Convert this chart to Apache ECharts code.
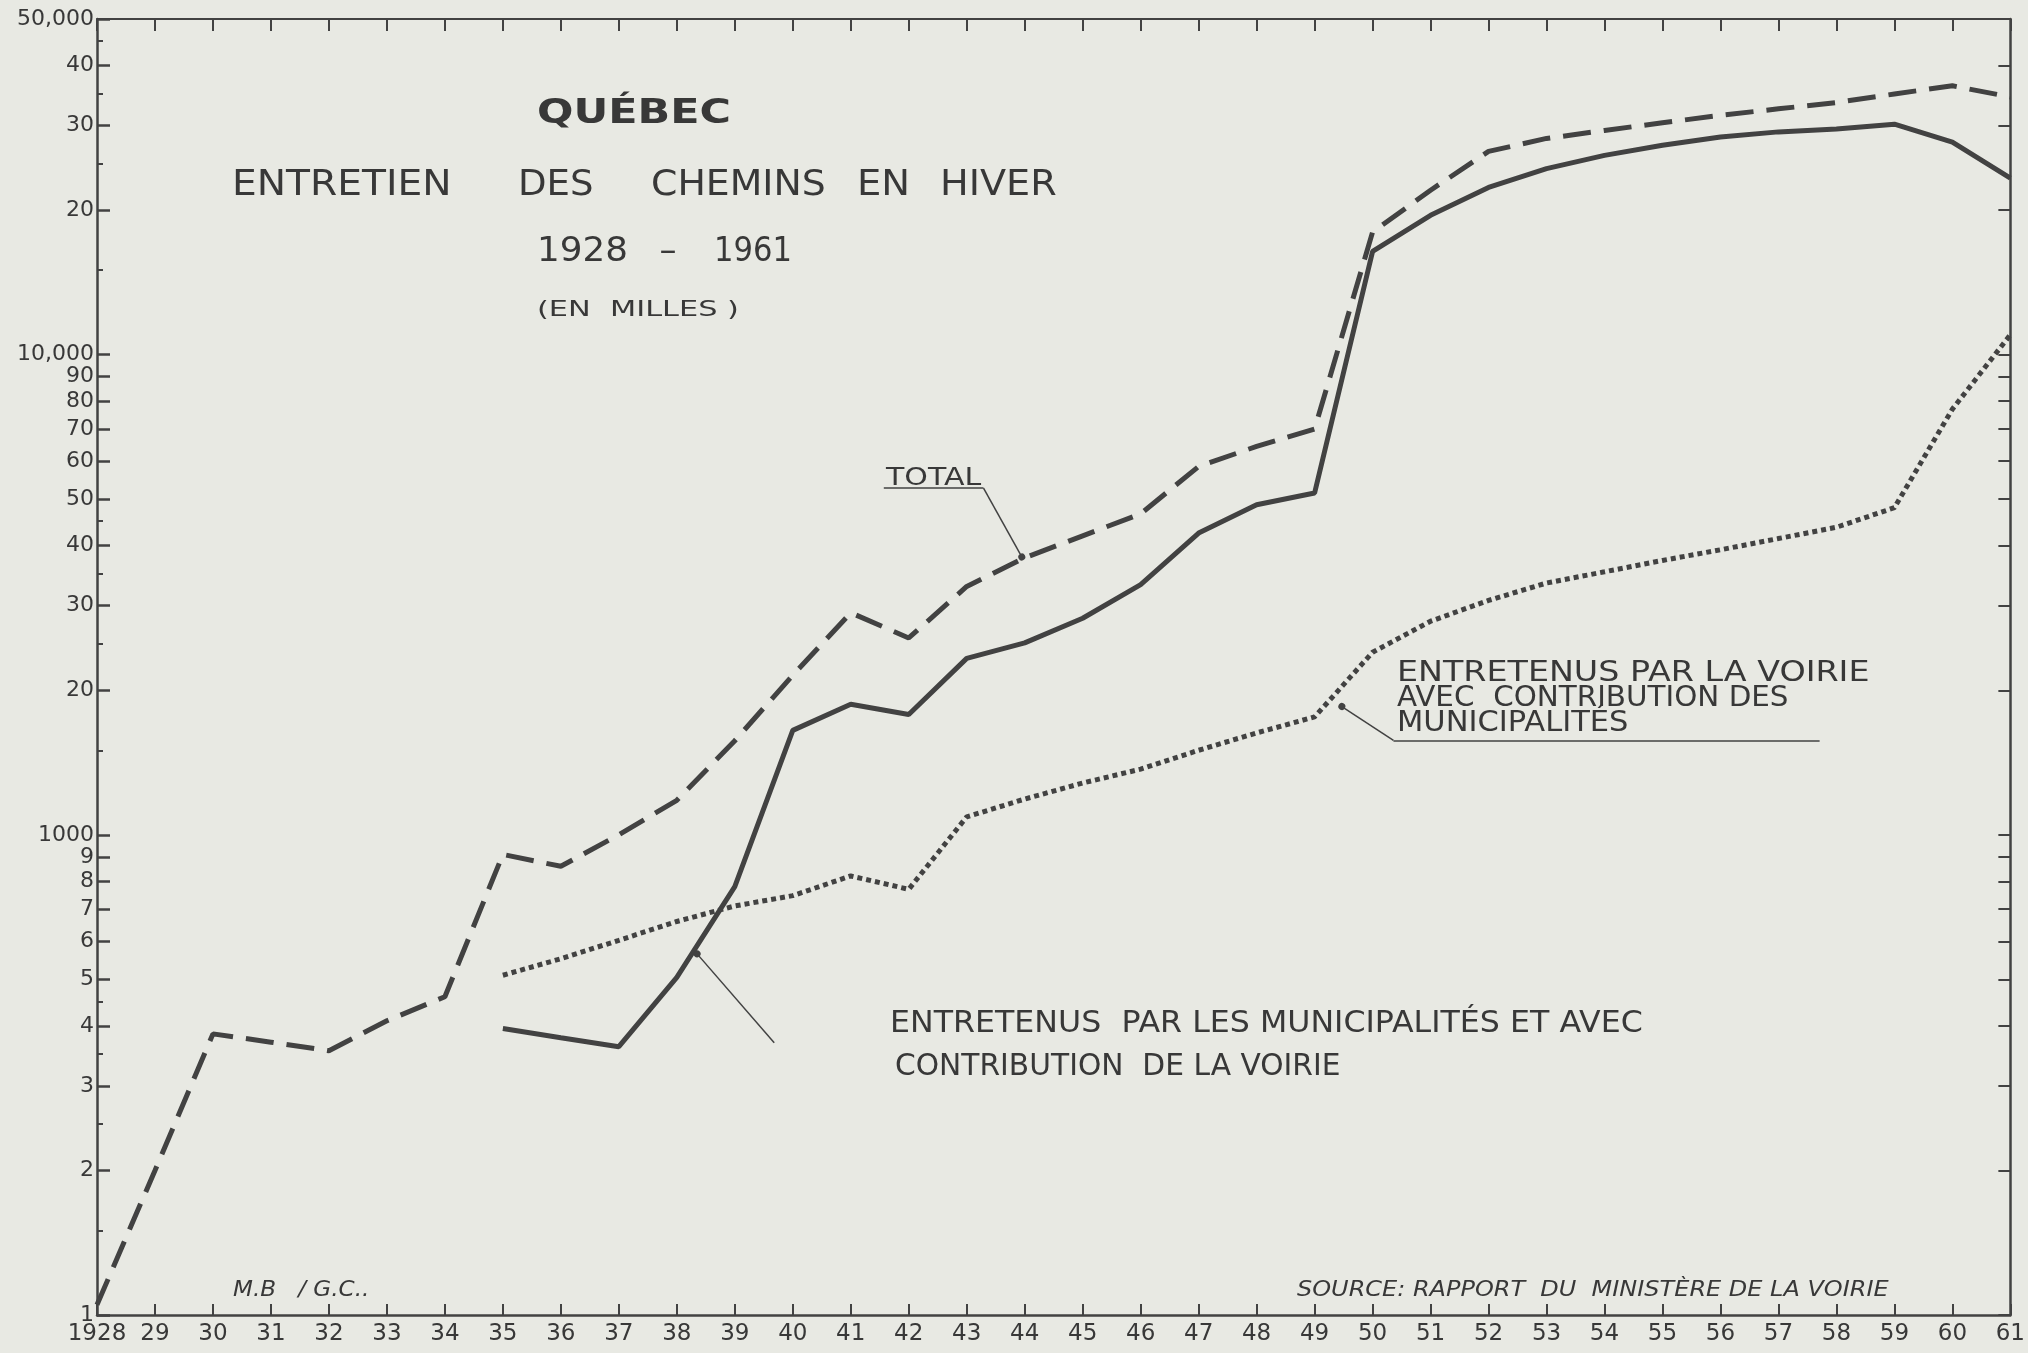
<!DOCTYPE html>
<html>
<head>
<meta charset="utf-8">
<script src="https://cdn.jsdelivr.net/npm/echarts@6/dist/echarts.min.js"></script>
<style>
    html, body { margin: 0; padding: 0; background: #e8e9e3; }
    #main { width: 2028px; height: 1353px; }
</style>
</head>
<body>
<div id="main"></div>
<script>
    // years on the x axis
    var years = [1928, 1929, 1930, 1931, 1932, 1933, 1934, 1935, 1936, 1937, 1938, 1939,
        1940, 1941, 1942, 1943, 1944, 1945, 1946, 1947, 1948, 1949, 1950, 1951,
        1952, 1953, 1954, 1955, 1956, 1957, 1958, 1959, 1960, 1961];

    // total (dashed)
    var total = [105, 200, 385, 370, 355, 410, 460, 910, 860, 1000, 1180, 1570,
        2150, 2900, 2570, 3290, 3775, 4195, 4660, 5850, 6440, 7000, 18000, 22000,
        26500, 28200, 29300, 30400, 31500, 32500, 33500, 34900, 36300, 34400];

    // entretenus par les municipalites (solid)
    var municipal = [null, null, null, null, null, null, null, 395, 378, 362, 505, 780,
        1650, 1870, 1780, 2330, 2510, 2825, 3320, 4250, 4870, 5150, 16400, 19500,
        22300, 24400, 26000, 27300, 28400, 29100, 29500, 30200, 27700, 23300];

    // entretenus par la voirie (dotted)
    var voirie = [null, null, null, null, null, null, null, 510, 552, 603, 660, 711,
        747, 821, 770, 1090, 1187, 1282, 1370, 1500, 1630, 1760, 2400, 2785,
        3077, 3345, 3530, 3727, 3923, 4140, 4370, 4800, 7700, 11000];

    // y axis ticks and their labels
    var yTickValues = [100, 200, 300, 400, 500, 600, 700, 800, 900,
        1000, 2000, 3000, 4000, 5000, 6000, 7000, 8000, 9000,
        10000, 20000, 30000, 40000, 50000];
    var yTickLabels = ['1', '2', '3', '4', '5', '6', '7', '8', '9',
        '1000', '20', '30', '40', '50', '60', '70', '80', '90',
        '10,000', '20', '30', '40', '50,000'];
    var yMinorTicks = [150, 250, 350, 450, 1500, 2500, 3500, 4500, 15000, 25000, 35000, 45000];

    var ink = '#424242';
    var textInk = '#383838';
    var font = '"DejaVu Sans", "Liberation Sans", sans-serif';

    function pairs(values) {
        var out = [];
        for (var i = 0; i < years.length; i++) {
            if (values[i] != null) out.push([years[i], values[i]]);
        }
        return out;
    }

    function yLabel(v) {
        for (var i = 0; i < yTickValues.length; i++) {
            if (Math.abs(yTickValues[i] - v) / yTickValues[i] < 0.001) return yTickLabels[i];
        }
        return '';
    }

    // plain lettering on the sheet, stretched a bit like the hand stencil
    function note(text, x, y, size, sx, opts) {
        opts = opts || {};
        return {
            type: 'text', x: x, y: y, scaleX: sx,
            style: {
                text: text, fill: textInk,
                font: (opts.style || '') + ' ' + size + 'px ' + font,
                textAlign: opts.align || 'left', textVerticalAlign: 'middle'
            }
        };
    }

    var chart = echarts.init(document.getElementById('main'));

    var leader = {
        width: 1.5,
        color: ink,
        type: 'solid'
    };

    chart.setOption({
        animation: false,
        backgroundColor: '#e8e9e3',
        grid: {left: 97, right: 5, top: 19, bottom: 38},
        xAxis: [
            {
                type: 'value', min: 1928, max: 1961, interval: 1, position: 'bottom',
                axisLine: {lineStyle: {color: ink, width: 2.5}},
                axisTick: {inside: true, length: 11, lineStyle: {color: ink, width: 2}},
                axisLabel: {
                    color: textInk, fontSize: 23, fontFamily: font, margin: 8,
                    formatter: function (v) { return v === 1928 ? '1928' : String(v).slice(2); }
                },
                splitLine: {show: false}
            },
            {
                type: 'value', min: 1928, max: 1961, interval: 1, position: 'top',
                axisLine: {lineStyle: {color: ink, width: 2}},
                axisTick: {inside: true, length: 12, lineStyle: {color: ink, width: 2}},
                axisLabel: {show: false},
                splitLine: {show: false}
            }
        ],
        yAxis: [
            {
                type: 'log', logBase: 10, min: 100, max: 50000, position: 'left',
                axisLine: {show: true, lineStyle: {color: ink, width: 2.5}},
                axisTick: {show: true, inside: true, length: 13, customValues: yTickValues,
                    lineStyle: {color: ink, width: 2.5}},
                axisLabel: {customValues: yTickValues, formatter: yLabel, margin: 3,
                    color: textInk, fontSize: 22, fontFamily: font},
                splitLine: {show: false},
                minorTick: {show: false}
            },
            {
                type: 'log', logBase: 10, min: 100, max: 50000, position: 'left',
                axisLine: {show: false},
                axisTick: {show: true, inside: true, length: 6, customValues: yMinorTicks,
                    lineStyle: {color: ink, width: 2}},
                axisLabel: {show: false},
                splitLine: {show: false}
            },
            {
                type: 'log', logBase: 10, min: 100, max: 50000, position: 'right',
                axisLine: {show: true, lineStyle: {color: ink, width: 2.5}},
                axisTick: {show: true, inside: true, length: 12, customValues: yTickValues,
                    lineStyle: {color: ink, width: 2}},
                axisLabel: {show: false},
                splitLine: {show: false}
            }
        ],
        series: [
            {
                name: 'TOTAL',
                type: 'line',
                data: pairs(total),
                showSymbol: false,
                lineStyle: {color: ink, width: 5, type: [28, 13], cap: 'butt'},
                markLine: {
                    silent: true,
                    symbol: ['none', 'circle'],
                    symbolSize: 7,
                    label: {show: false},
                    lineStyle: leader,
                    data: [
                        [{coord: [1941.57, 5275], symbol: 'none'}, {coord: [1943.29, 5275], symbol: 'none'}],
                        [{coord: [1943.29, 5275], symbol: 'none'}, {coord: [1943.95, 3790], symbol: 'circle'}]
                    ]
                }
            },
            {
                name: 'MUNICIPALITES',
                type: 'line',
                data: pairs(municipal),
                showSymbol: false,
                lineStyle: {color: ink, width: 5, type: 'solid'},
                markLine: {
                    silent: true,
                    symbol: ['none', 'circle'],
                    symbolSize: 7,
                    label: {show: false},
                    lineStyle: leader,
                    data: [
                        [{coord: [1939.68, 369], symbol: 'none'}, {coord: [1938.35, 565], symbol: 'circle'}]
                    ]
                }
            },
            {
                name: 'VOIRIE',
                type: 'line',
                data: pairs(voirie),
                showSymbol: false,
                lineStyle: {color: ink, width: 5, type: [5, 4], cap: 'butt'},
                markLine: {
                    silent: true,
                    symbol: ['none', 'circle'],
                    symbolSize: 7,
                    label: {show: false},
                    lineStyle: leader,
                    data: [
                        [{coord: [1950.36, 1573], symbol: 'none'}, {coord: [1957.71, 1573], symbol: 'none'}],
                        [{coord: [1950.36, 1573], symbol: 'none'}, {coord: [1949.47, 1850], symbol: 'circle'}]
                    ]
                }
            }
        ],
        graphic: [
            note('QUÉBEC', 634, 114, 33, 1.3, {style: 'bold', align: 'center'}),
            note('ENTRETIEN', 232, 186, 35, 1.12),
            note('DES', 518, 186, 35, 1.06),
            note('CHEMINS', 651, 186, 35, 1.08),
            note('EN', 857, 186, 35, 1.1),
            note('HIVER', 940, 186, 35, 1.09),
            note('1928', 537, 252, 34, 1.05),
            note('–', 668, 252, 34, 1.0, {align: 'center'}),
            note('1961', 714, 252, 34, 0.9),
            note('(EN  MILLES )', 537, 310, 22, 1.38),
            note('TOTAL', 886, 478, 25, 1.2),
            note('ENTRETENUS PAR LA VOIRIE', 1397, 674, 28, 1.19),
            note('AVEC  CONTRIBUTION DES', 1397, 699, 28, 1.05),
            note('MUNICIPALITÉS', 1397, 724, 28, 1.09),
            note('ENTRETENUS  PAR LES MUNICIPALITÉS ET AVEC', 890, 1024, 30, 1.055),
            note('CONTRIBUTION  DE LA VOIRIE', 895, 1067, 30, 0.99),
            note('M.B   / G.C..', 233, 1290, 22, 1.05, {style: 'italic'}),
            note('SOURCE: RAPPORT  DU  MINISTÈRE DE LA VOIRIE', 1297, 1290, 22, 1.09, {style: 'italic'})
        ]
    });
</script>
</body>
</html>
